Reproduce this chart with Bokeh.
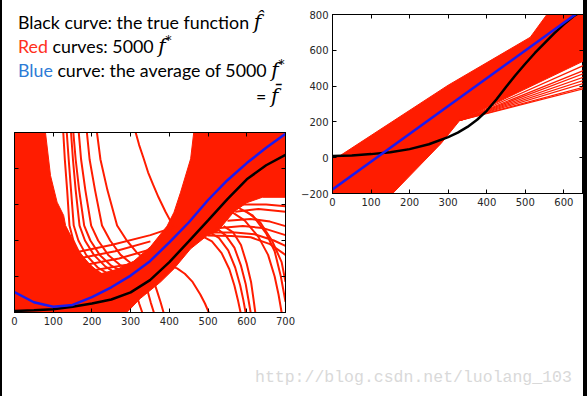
from bokeh.plotting import figure
from bokeh.models import Range1d, LinearAxis, FixedTicker, Div
from bokeh.layouts import row, column
from bokeh.embed import file_html
from bokeh.resources import INLINE

# ---------------- data: left chart (5000 high-order fits, x 0..700, y 0..1000)
left_xticks = [0, 100, 200, 300, 400, 500, 600, 700]
left_yticks = [0, 200, 400, 600, 800, 1000]

left_black_x = [0, 50, 100, 150, 200, 250, 300, 350, 400, 450, 500, 550, 600, 650, 700]
left_black_y = [8, 12, 18, 32, 50, 72, 112, 180, 280, 395, 512, 630, 740, 818, 876]

left_blue_x = [0, 50, 100, 150, 200, 250, 300, 350, 400, 450, 500, 550, 600, 650, 700]
left_blue_y = [113, 57, 32, 42, 85, 140, 205, 285, 390, 500, 625, 735, 830, 915, 993]

# outline of the area that the red curves cover completely
left_red_area_x = [0, 0, 80, 93, 110, 127, 132, 162, 190, 222, 265, 308, 351, 394, 412, 429,
                   455, 463, 700, 700, 640, 600, 567, 524, 498, 455, 412, 377, 325, 290]
left_red_area_y = [0, 1000, 1000, 761, 613, 539, 483, 354, 275, 215, 240, 285, 365, 480, 557, 668,
                   854, 1000, 1000, 640, 640, 610, 560, 450, 428, 354, 243, 169, 78, 0]

# single red curves that stand out of the covered area
left_red_lines_x = [
    [126, 130, 136, 142, 152, 170, 200, 235],
    [135, 140, 146, 153, 165, 185, 215, 250],
    [146, 151, 158, 168, 182, 205, 235, 265],
    [152, 158, 167, 180, 196, 220, 250, 280],
    [166, 172, 183, 198, 216, 242, 272, 300],
    [187, 194, 208, 226, 247, 274, 300, 325],
    [213, 222, 240, 265, 290, 315, 340, 360],
    [313, 322, 333, 345, 358, 372, 390, 410],
    [150, 250, 351, 420], [165, 260, 351], [185, 270, 351], [205, 290, 351],
    [395, 420, 440, 460, 480, 492, 502],
    [480, 510, 535, 555, 568, 577, 584],
    [500, 528, 552, 570, 583, 591, 597],
    [520, 545, 568, 585, 597, 604, 610],
    [540, 565, 585, 600, 611, 617, 622],
    [560, 595, 630, 655, 672, 682, 690],
    [580, 615, 650, 672, 688, 700],
    [600, 635, 665, 690, 700],
    [498, 560, 610, 660, 700], [510, 570, 620, 670, 700], [530, 590, 640, 700],
    [550, 610, 660, 700], [570, 630, 700], [590, 650, 700],
    [305, 315, 322, 330], [335, 345, 352, 360], [358, 368, 377, 385],
]
left_red_lines_y = [
    [1000, 850, 680, 483, 400, 320, 250, 200],
    [1000, 850, 680, 483, 400, 320, 250, 205],
    [1000, 850, 680, 483, 400, 320, 255, 215],
    [1000, 850, 680, 483, 400, 320, 260, 225],
    [1000, 850, 680, 483, 400, 320, 265, 235],
    [1000, 850, 680, 483, 400, 320, 275, 245],
    [1000, 850, 680, 483, 400, 335, 290, 270],
    [1000, 930, 860, 779, 710, 640, 560, 480],
    [330, 375, 430, 480], [300, 340, 395], [265, 300, 350], [235, 265, 310],
    [265, 245, 215, 170, 100, 50, 0],
    [430, 395, 330, 240, 150, 70, 0],
    [450, 415, 345, 250, 150, 70, 0],
    [470, 430, 360, 260, 160, 75, 0],
    [480, 445, 375, 270, 170, 80, 0],
    [560, 510, 420, 320, 200, 100, 0],
    [580, 540, 440, 340, 200, 60],
    [560, 500, 400, 280, 170],
    [428, 425, 418, 380, 320], [445, 445, 435, 400, 370], [470, 480, 470, 430],
    [510, 520, 505, 480], [560, 575, 560], [600, 600, 590],
    [150, 100, 50, 0], [170, 110, 55, 0], [185, 120, 60, 0],
]

# ---------------- data: right chart (5000 straight-line fits, x 0..651, y -200..800)
right_xticks = [0, 100, 200, 300, 400, 500, 600]
right_yticks = [-200, 0, 200, 400, 600, 800]

right_black_x = [0, 50, 100, 150, 200, 250, 300, 325, 350, 375, 400, 425, 450, 475, 500,
                 525, 550, 575, 600, 625, 651]
right_black_y = [10, 12, 20, 30, 48, 75, 115, 140, 172, 212, 262, 325, 395, 462, 525,
                 585, 640, 695, 745, 790, 825]

right_blue_x = [0, 651]
right_blue_y = [-177, 833]

right_red_area_x = [0, 0, 20, 300, 513, 556, 651, 651, 330, 281, 156]
right_red_area_y = [-200, 0, 12, 405, 673, 800, 800, 540, 208, 78, -200]

right_fan_start_x = 330
right_fan_start_y = 208
right_fan_end_x = 651
right_fan_end_y = [515, 487, 469, 450, 432, 414, 394, 385]

RED = "#ff1c00"
BLUE = "#1a1af0"
TICK_FONT = "DejaVu Sans"


def quiet_axis(ticks):
    return LinearAxis(ticker=FixedTicker(ticks=ticks), major_label_text_font_size="1px",
                      major_label_text_color=None, major_label_standoff=0,
                      major_tick_in=4, major_tick_out=0, minor_tick_line_color=None,
                      axis_line_color="black", major_tick_line_color="black")


def style_frame(p, xticks, yticks, show_y_labels=True):
    p.grid.visible = False
    p.outline_line_color = "black"
    p.outline_line_width = 1
    p.background_fill_color = "white"
    p.border_fill_color = "white"
    p.xaxis.ticker = FixedTicker(ticks=xticks)
    p.yaxis.ticker = FixedTicker(ticks=yticks)
    for ax in p.xaxis + p.yaxis:
        ax.major_tick_in = 4
        ax.major_tick_out = 0
        ax.minor_tick_line_color = None
        ax.axis_line_color = "black"
        ax.major_tick_line_color = "black"
        ax.major_label_text_font = TICK_FONT
        ax.major_label_text_font_size = "10px"
        ax.major_label_text_color = "#262626"
        ax.major_label_standoff = 4
    if not show_y_labels:
        p.yaxis.major_label_text_font_size = "1px"
        p.yaxis.major_label_text_color = None
        p.yaxis.major_label_standoff = 0
    p.add_layout(quiet_axis(xticks), "above")
    p.add_layout(quiet_axis(yticks), "right")


# ---------------- left chart
left = figure(width=296, height=218, x_range=Range1d(0, 700), y_range=Range1d(0, 1000),
              output_backend="svg", toolbar_location=None,
              min_border_left=12, min_border_right=13, min_border_top=10, min_border_bottom=28)
style_frame(left, left_xticks, left_yticks, show_y_labels=False)
left.patch(left_red_area_x, left_red_area_y, fill_color=RED, line_color=RED, line_width=1)
left.multi_line(left_red_lines_x, left_red_lines_y, line_color=RED, line_width=2)
left.line(left_black_x, left_black_y, line_color="black", line_width=2.5)
left.line(left_blue_x, left_blue_y, line_color=BLUE, line_width=2.5)

# ---------------- right chart
right = figure(width=285, height=220, x_range=Range1d(0, 651), y_range=Range1d(-200, 800),
               output_backend="svg", toolbar_location=None,
               min_border_left=33, min_border_right=0, min_border_top=14, min_border_bottom=27)
style_frame(right, right_xticks, right_yticks)
right.patch(right_red_area_x, right_red_area_y, fill_color=RED, line_color=RED, line_width=1)
fan_xs = [[right_fan_start_x, right_fan_end_x] for _ in right_fan_end_y]
fan_ys = [[right_fan_start_y, ye] for ye in right_fan_end_y]
right.multi_line(fan_xs, fan_ys, line_color=RED, line_width=1.2)
right.line(right_black_x, right_black_y, line_color="black", line_width=2.5)
right.line(right_blue_x, right_blue_y, line_color=BLUE, line_width=2.5)

# ---------------- slide text
MATH = "font-family:'DejaVu Serif';font-style:italic;font-size:20px;line-height:0"
SUP = "<sup style=\"font-size:12px;line-height:0\">*</sup>"
text_html = (
    "<div style=\"font-family:Lato;font-size:17.8px;color:#000;line-height:24px;"
    "padding-left:16px;padding-top:10px;width:267px;white-space:nowrap\">"
    "<div>Black curve: the true function <span style=\"" + MATH + "\">f\u0302</span></div>"
    "<div><span style=\"color:#ff3020\">Red</span> curves: 5000&nbsp;"
    "<span style=\"" + MATH + "\">f" + SUP + "</span></div>"
    "<div><span style=\"color:#2d7bd6\">Blue</span> curve: the average of 5000&nbsp;"
    "<span style=\"" + MATH + "\">f" + SUP + "</span></div>"
    "<div style=\"padding-left:238px;padding-top:2px\">= <span style=\"" + MATH + "\">f\u0304</span></div>"
    "</div>"
)
text_div = Div(text=text_html, width=296, height=122, margin=0)

mark_html = ("<div style=\"font-family:'Liberation Mono';font-size:16.5px;line-height:20px;"
             "color:#d9d9d9;padding-left:253px;padding-top:28px;white-space:nowrap\">"
             "http://blog.csdn.net/luolang_103</div>")
mark_div = Div(text=mark_html, width=581, height=56, margin=0)

edge_left = Div(text="", width=2, height=396, margin=0, styles={"background-color": "black"})
edge_right = Div(text="", width=4, height=396, margin=0, styles={"background-color": "black"})

main = column(row(column(text_div, left), right), mark_div)
layout = row(edge_left, main, edge_right)

open("out.html", "w").write(file_html(layout, INLINE))
